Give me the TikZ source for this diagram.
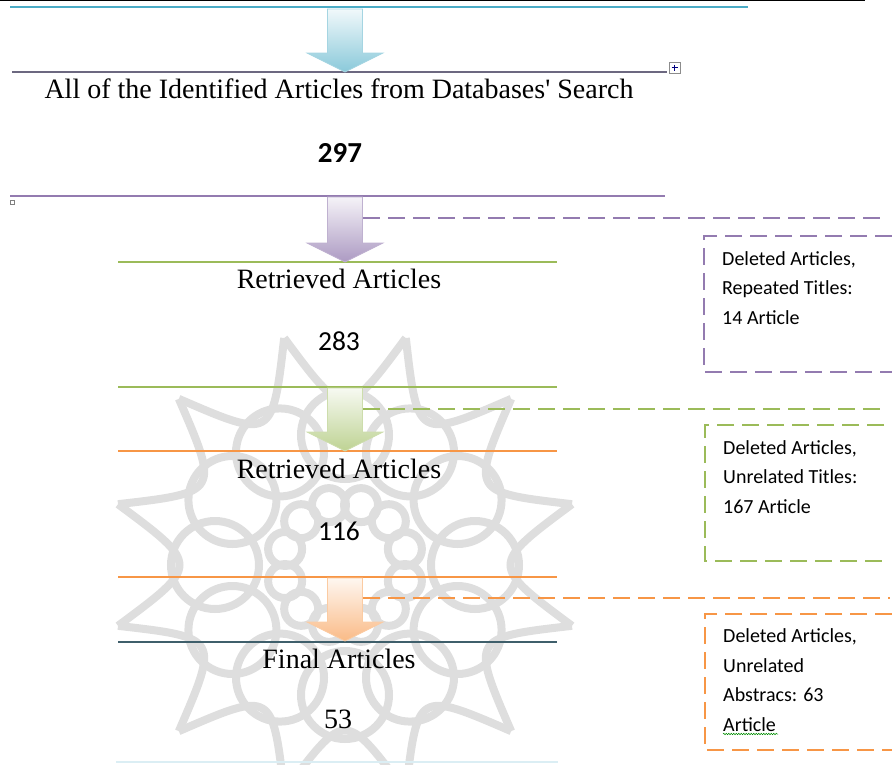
\documentclass[tikz,border=0pt]{standalone}
\usepackage{fontspec}
\setmainfont{Liberation Serif}
\newfontfamily\timesfont{Liberation Serif}
\newfontfamily\calibri{Carlito}
\usetikzlibrary{calc,decorations.pathmorphing}
\definecolor{officeblue}{HTML}{4BACC6}
\definecolor{officepurple}{HTML}{8064A2}
\definecolor{officegreen}{HTML}{9BBB59}
\definecolor{officeorange}{HTML}{F79646}
\definecolor{finalteal}{HTML}{3F5F6B}
\definecolor{greypurple}{HTML}{6C6880}

\begin{document}
\begin{tikzpicture}[x=1pt, y=-1pt,
  rule/.style={line width=1.3pt},
  heading/.style={font=\timesfont\fontsize{28}{32}\selectfont, anchor=base, inner sep=0pt},
  count/.style={font=\calibri\fontsize{27.5}{32}\selectfont, anchor=base, inner sep=0pt},
  note/.style={font=\calibri\fontsize{20}{29.5}\selectfont, align=left,
               anchor=base west, inner sep=0pt},
  cut/.style={draw=#1, line width=1.8pt, dash pattern=on 17pt off 8pt},
  flow/.style={draw=#1!50, line width=0.7pt, top color=#1!8, bottom color=#1!65,
    to path={let \p1=(\tikztostart), \p2=(\tikztotarget) in
      (\x1-17.5pt,\y1) -- (\x1+17.5pt,\y1) -- (\x1+17.5pt,\y2+19pt)
      -- (\x1+38pt,\y2+19pt) -- (\x2,\y2) -- (\x1-38pt,\y2+19pt)
      -- (\x1-17.5pt,\y2+19pt) -- cycle}}
]
\useasboundingbox (0,0) rectangle (892,764);

% watermark
\begin{scope}[draw=black!13, line width=8pt]
  \foreach \a in {0,30,...,330} {
    \draw (345,565) ++(\a:130) circle (44);
    \draw (345,565) ++(\a+15:62) circle (17);
    \draw ($(345,565)+(\a+15:235)$) .. controls ($(345,565)+(\a+30:145)$)
      .. ($(345,565)+(\a+45:235)$);
  }
\end{scope}

% rules
\draw[line width=1.4pt] (0,0.7) -- (865,0.7);
\draw[rule, officeblue] (10,7) -- (748,7);
\draw[rule, greypurple] (12,72) -- (667,72);
\draw[rule, officepurple!85] (10,196) -- (665,196);
\draw[rule, officegreen] (118,262) -- (557,262);
\draw[rule, officegreen] (118,387) -- (557,387);
\draw[rule, officeorange] (118,451) -- (557,451);
\draw[rule, officeorange] (118,577) -- (557,577);
\draw[rule, finalteal] (118,642) -- (557,642);
\draw[rule, officeblue!20] (116,762) -- (558,762);

% handles
\draw[black!45, fill=white, line width=0.6pt] (669,62) rectangle (680,73);
\draw[blue!50!black, line width=0.6pt] (674.5,64.5) -- (674.5,70.5) (671.5,67.5) -- (677.5,67.5);
\draw[black!50, line width=0.6pt] (10,200) rectangle (14,204);

% texts
\node[heading] (found) at (339,98) {All of the Identified Articles from Databases' Search};
\node[count, font=\calibri\bfseries\fontsize{29}{32}\selectfont] (found n) at (340,162) {297};
\node[heading] (kept1) at (339,288) {Retrieved Articles};
\node[count] (kept1 n) at (339,350) {283};
\node[heading] (kept2) at (339,478) {Retrieved Articles};
\node[count] (kept2 n) at (339,540) {116};
\node[heading] (final) at (339,668) {Final Articles};
\node[heading] (final n) at (338,728) {53};

% block arrows
\coordinate (a1) at (345,9);   \coordinate (a1 tip) at (345,72);
\coordinate (a2) at (345,197); \coordinate (a2 tip) at (345,262);
\coordinate (a3) at (345,388); \coordinate (a3 tip) at (345,451);
\coordinate (a4) at (345,578); \coordinate (a4 tip) at (345,641);
\draw[flow=officeblue] (a1) to (a1 tip);
\draw[flow=officepurple] (a2) to (a2 tip);
\draw[flow=officegreen] (a3) to (a3 tip);
\draw[flow=officeorange] (a4) to (a4 tip);

% deleted articles
\coordinate (cut1) at (363,218); \coordinate (cut1 end) at (882,218);
\coordinate (cut2) at (363,409); \coordinate (cut2 end) at (882,409);
\coordinate (cut3) at (363,598); \coordinate (cut3 end) at (890,598);
\draw[cut=officepurple!85] (cut1) -- (cut1 end);
\draw[cut=officegreen] (cut2) -- (cut2 end);
\draw[cut=officeorange] (cut3) -- (cut3 end);

\draw[cut=officepurple!85] (892,236) -| (704,372) -- (892,372);
\draw[cut=officegreen] (884,425) -| (705,561) -- (884,561);
\draw[cut=officeorange] (892,614) -| (705,750) -- (892,750);

% base anchor sits on the last line
\node[note] (del1) at (722,324) {Deleted Articles,\\Repeated Titles:\\14 Article};
\node[note] (del2) at (723,513) {Deleted Articles,\\Unrelated Titles:\\167 Article};
\node[note] (del3) at (723,731) {Deleted Articles,\\Unrelated\\Abstracs: 63\\Article};
\draw[green!55!black, line width=0.5pt, decorate,
      decoration={snake, amplitude=0.8pt, segment length=2.5pt}]
  ($(del3.base west)+(0,3)$) -- ++(55,0);
\end{tikzpicture}
\end{document}
